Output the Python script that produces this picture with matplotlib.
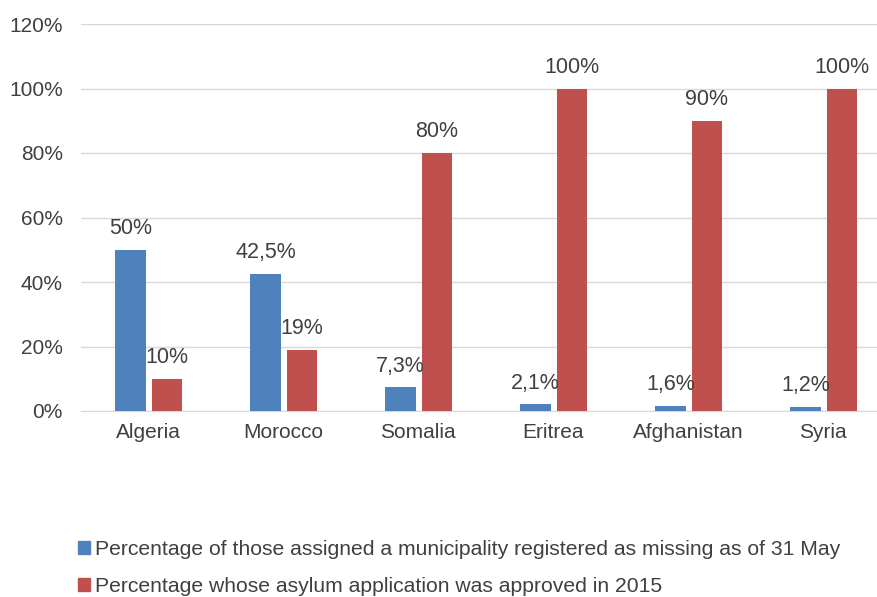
import matplotlib.pyplot as plt
import numpy as np
from matplotlib.patches import Patch

plt.rcParams["font.family"] = ["Liberation Sans", "DejaVu Sans"]

countries = ["Algeria", "Morocco", "Somalia", "Eritrea", "Afghanistan", "Syria"]
missing_pct = [50, 42.5, 7.3, 2.1, 1.6, 1.2]
missing_labels = ["50%", "42,5%", "7,3%", "2,1%", "1,6%", "1,2%"]
approved_pct = [10, 19, 80, 100, 90, 100]
approved_labels = ["10%", "19%", "80%", "100%", "90%", "100%"]
series_names = [
    "Percentage of those assigned a municipality registered as missing as of 31 May",
    "Percentage whose asylum application was approved in 2015",
]

BLUE = "#4F81BD"
RED = "#C0504D"
TXT = "#404040"
GRID = "#D9D9D9"

fig = plt.figure(figsize=(8.78, 5.97), dpi=100)
ax = fig.add_axes([81 / 878, 1 - 411 / 597, 797 / 878, (411 - 24) / 597])

x = np.arange(len(countries))
w = 0.225
off = 0.13
ax.bar(x - off, missing_pct, w, color=BLUE, zorder=3)
ax.bar(x + off + 0.01, approved_pct, w, color=RED, zorder=3)

for xi, v, lab in zip(x, missing_pct, missing_labels):
    ax.text(xi - off, v + 3.3, lab, ha="center", va="bottom", fontsize=15.5, color=TXT)
for xi, v, lab in zip(x, approved_pct, approved_labels):
    ax.text(xi + off + 0.01, v + 3.3, lab, ha="center", va="bottom", fontsize=15.5, color=TXT)

ax.set_xlim((81 - 148) / 135, (878 - 148) / 135)
ax.set_ylim(0, 120)
ax.set_yticks(range(0, 121, 20))
ax.set_yticklabels([f"{t}%" for t in range(0, 121, 20)])
ax.set_xticks(x)
ax.set_xticklabels(countries)
ax.tick_params(axis="both", length=0, labelsize=15, colors=TXT)
ax.tick_params(axis="x", pad=9)
ax.tick_params(axis="y", pad=13)
ax.grid(axis="y", color=GRID, linewidth=1, zorder=0)
for s in ["top", "right", "left"]:
    ax.spines[s].set_visible(False)
ax.spines["bottom"].set_color(GRID)

handles = [Patch(color=BLUE), Patch(color=RED)]
fig.legend(handles, series_names, loc="lower left", bbox_to_anchor=(70 / 878, -0.012),
           frameon=False, fontsize=15.2, labelcolor=TXT, handlelength=0.55, handleheight=0.55,
           handletextpad=0.25, labelspacing=0.85, borderaxespad=0)

fig.savefig("out.png", dpi=100)
